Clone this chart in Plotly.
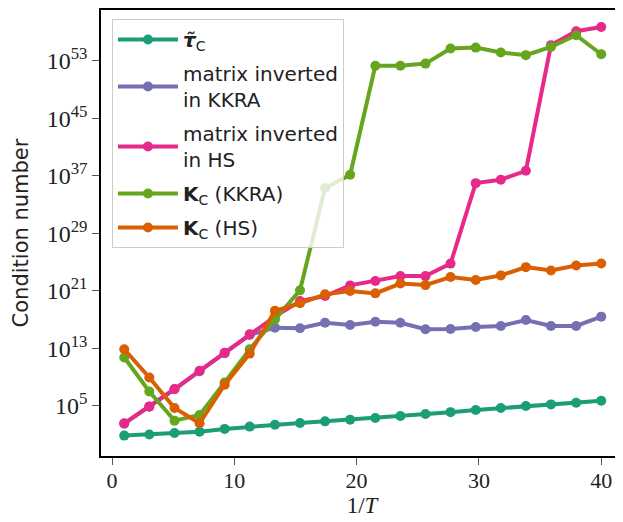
import numpy as np
import plotly.graph_objects as go

# x positions (1/T)
inv_T = [1.0, 3.05, 5.11, 7.16, 9.21, 11.26, 13.32, 15.37, 17.42, 19.47,
         21.53, 23.58, 25.63, 27.68, 29.74, 31.79, 33.84, 35.89, 37.95, 40.0]

# log10 of condition numbers
tau_c_exp = [0.84, 0.98, 1.21, 1.39, 1.77, 2.09, 2.36, 2.60, 2.82, 3.06,
             3.29, 3.57, 3.85, 4.10, 4.40, 4.68, 4.96, 5.18, 5.42, 5.69]
inv_kkra_exp = [2.5, 4.85, 7.28, 9.8, 12.3, 14.85, 15.86, 15.78, 16.55, 16.23,
                16.69, 16.55, 15.64, 15.66, 15.96, 16.10, 16.93, 16.10, 16.10, 17.39]
inv_hs_exp = [2.55, 4.9, 7.32, 9.85, 12.35, 14.94, 17.4, 19.56, 20.26, 21.74,
              22.34, 23.03, 23.03, 24.77, 35.97, 36.44, 37.69, 55.17, 57.1, 57.7]
kc_kkra_exp = [11.7, 6.98, 2.92, 3.71, 8.23, 12.86, 17.0, 21.05, 35.28, 37.13,
               52.3, 52.3, 52.6, 54.7, 54.83, 54.14, 53.78, 54.93, 56.55, 53.9]
kc_hs_exp = [12.86, 8.93, 4.68, 2.55, 7.91, 12.25, 18.2, 19.25, 20.49, 20.95,
             20.63, 22.0, 21.78, 22.9, 22.48, 23.13, 24.28, 23.82, 24.51, 24.79]

names = ["<b><i>τ̃</i></b><sub>C</sub>",
         "matrix inverted<br>in KKRA",
         "matrix inverted<br>in HS",
         "<b>K</b><sub>C</sub> (KKRA)",
         "<b>K</b><sub>C</sub> (HS)"]
colors = ["#1b9e77", "#7570b3", "#e7298a", "#66a61e", "#d95f02"]
series = [tau_c_exp, inv_kkra_exp, inv_hs_exp, kc_kkra_exp, kc_hs_exp]

ytick_exps = [5, 13, 21, 29, 37, 45, 53]

fig = go.Figure()
for i, (name, col, s) in enumerate(zip(names, colors, series)):
    fig.add_trace(go.Scatter(
        x=inv_T, y=10.0 ** np.array(s), name=name, mode="lines+markers",
        legendgroup=f"g{i}",
        line=dict(color=col, width=4), marker=dict(color=col, size=10)))

serif = "Liberation Serif"
sans = "DejaVu Sans"
fig.update_layout(
    width=615, height=514,
    margin=dict(l=93, r=0, t=0, b=66),
    plot_bgcolor="white", paper_bgcolor="white",
    showlegend=True,
    legend=dict(x=0.021, y=0.98, xanchor="left", yanchor="top",
                bgcolor="rgba(255,255,255,0.8)", bordercolor="#cccccc",
                borderwidth=1, font=dict(family=sans, size=20, color="#222"),
                itemwidth=60, tracegroupgap=5),
    xaxis=dict(range=[-0.9, 41.78], tickvals=[0, 10, 20, 30, 40],
               showgrid=False, zeroline=False, showline=True, linecolor="black",
               linewidth=1.5, mirror=True, ticks="outside", ticklen=7,
               tickcolor="#555", tickwidth=1.2, ticklabelstandoff=-3,
               tickfont=dict(family=serif, size=22, color="#222"),
               title=dict(text="1/<i>T</i>", font=dict(family=serif, size=23, color="#222"),
                          standoff=0)),
    yaxis=dict(type="log", range=[-2.0, 60.06],
               tickvals=[10.0 ** e for e in ytick_exps],
               ticktext=[f"10<sup>{e}</sup>" for e in ytick_exps],
               showgrid=False, zeroline=False, showline=True, linecolor="black",
               linewidth=1.5, mirror=False, ticks="outside", ticklen=7,
               tickcolor="#555", tickwidth=1.2,
               tickfont=dict(family=serif, size=24, color="#222"),
               title=dict(text="Condition number", font=dict(family=sans, size=21, color="#222"),
                          standoff=12)),
)
fig.write_html("out.html")
